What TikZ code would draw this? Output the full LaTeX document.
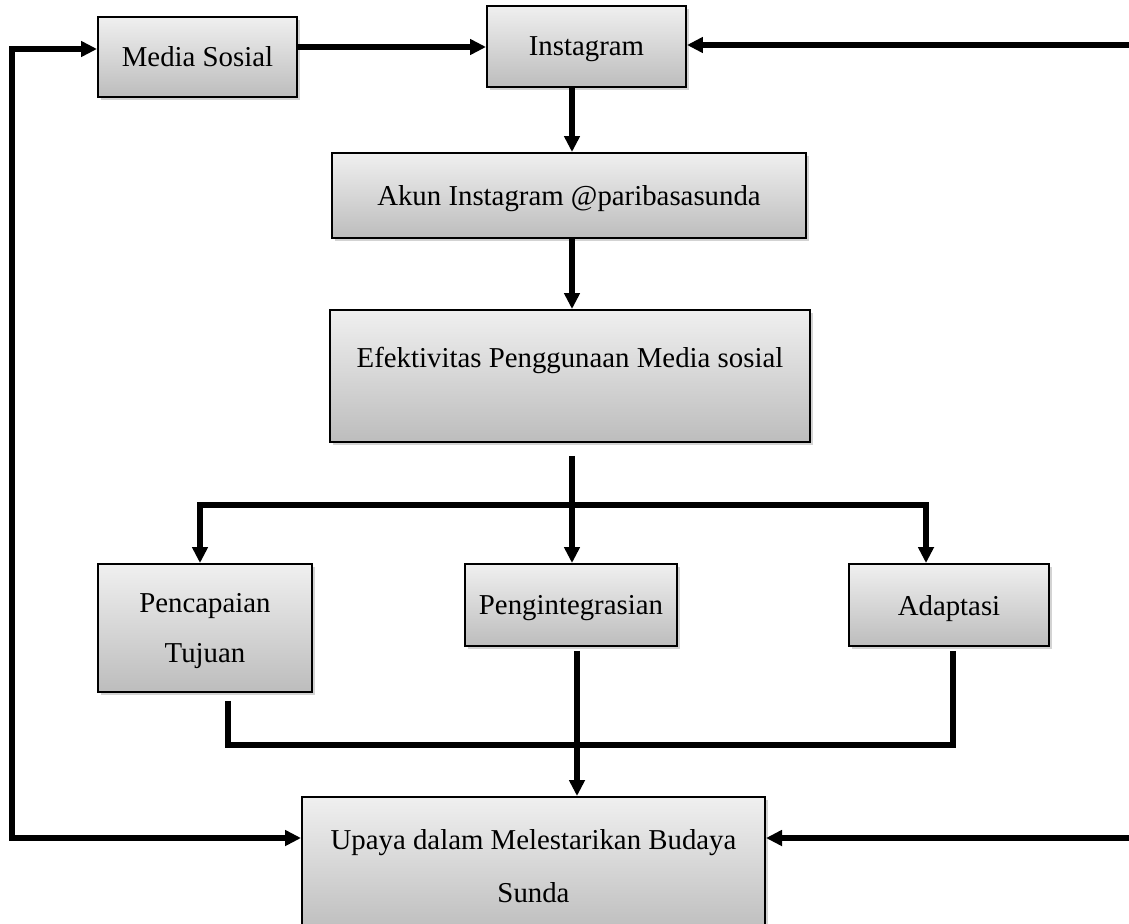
\documentclass[tikz,border=0pt]{standalone}
\usepackage{fontspec}
\setmainfont{Liberation Serif}
\usetikzlibrary{arrows.meta,shadows}

\tikzset{
  kotak/.style={draw,line width=1.4pt,top color=black!6,bottom color=black!26,
    drop shadow={shadow xshift=0.8mm,shadow yshift=-0.8mm,opacity=0.35},
    inner sep=0pt,align=center,font=\fontsize{20.5}{35.6}\selectfont},
  garis/.style={line width=3.6pt,>={Triangle[length=4mm,width=3.8mm]}}
}

\begin{document}
\begin{tikzpicture}[x=0.25mm,y=-0.25mm]
  \useasboundingbox (0,0) rectangle (1129,923);
  \node[kotak,minimum width=49.75mm,minimum height=20mm,text depth=0pt] (medsos) at (197.5,57) {Media Sosial};
  \node[kotak,minimum width=49.75mm,minimum height=20.25mm,text depth=0pt] (insta) at (586.5,46.5) {Instagram};
  \node[kotak,minimum width=118.5mm,minimum height=21.25mm,text depth=0pt] (akun) at (569,195.5) {Akun Instagram @paribasasunda};
  \node[kotak,minimum width=120mm,text height=14.3mm,text depth=18.7mm] (efek) at (570,376) {Efektivitas Penggunaan Media sosial};
  \node[kotak,minimum width=53.5mm,minimum height=32mm,text depth=0pt] (capai) at (205,628) {Pencapaian\\Tujuan};
  \node[kotak,minimum width=53mm,minimum height=20.5mm,text depth=0pt] (pengint) at (571,605) {Pengintegrasian};
  \node[kotak,minimum width=50mm,minimum height=20.5mm,text depth=0pt] (adapt) at (949,605) {Adaptasi};
  \node[kotak,minimum width=115.75mm,minimum height=34.5mm,font=\fontsize{20.5}{37.7}\selectfont] (upaya) at (533.5,866) {Upaya dalam Melestarikan Budaya\\Sunda};

  \coordinate (kiriA) at (12,838);
  \coordinate (kiriB) at (12,49);
  \coordinate (kananA) at (1134,45);
  \coordinate (kananB) at (1134,838);
  \coordinate (poros) at (572,0);
  \coordinate (poros2) at (577,0);
  \coordinate (cabangL) at (200,505);
  \coordinate (cabangR) at (926,505);
  \coordinate (gabungL) at (228,745);
  \coordinate (gabungR) at (953,745);

  \draw[garis,<->] (upaya.west |- kiriA) -- (kiriA) -- (kiriB) -- (medsos.west |- kiriB);
  \draw[garis,->] (medsos.east |- 0,47) -- (insta.west |- 0,47);
  \draw[garis,<->] (insta.east |- kananA) -- (kananA) -- (kananB) -- (upaya.east |- kananB);
  \draw[garis,->] (insta.south -| poros) -- (akun.north -| poros);
  \draw[garis,->] (akun.south -| poros) -- (efek.north -| poros);
  \draw[garis,->] ([yshift=-3.25mm]efek.south -| poros) -- (pengint.north -| poros);
  \draw[garis,<->] (capai.north -| cabangL) -- (cabangL) -- (cabangR) -- (adapt.north -| cabangR);
  \draw[garis] ([yshift=-2mm]capai.south -| gabungL) -- (gabungL) -- (gabungR) -- ([yshift=-1mm]adapt.south -| gabungR);
  \draw[garis,->] ([yshift=-1mm]pengint.south -| poros2) -- (upaya.north -| poros2);
\end{tikzpicture}
\end{document}
